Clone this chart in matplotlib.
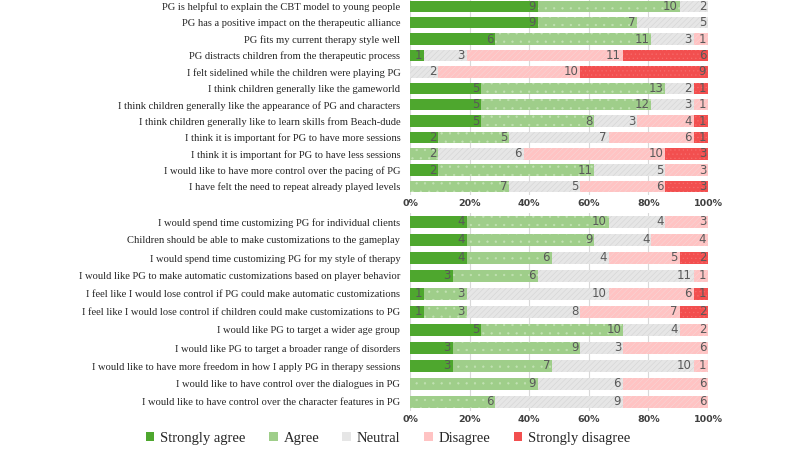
import matplotlib
matplotlib.use("Agg")
import matplotlib.pyplot as plt
import numpy as np

# Datos (numero de respuestas, 21 terapeutas)
niveles = ["Strongly agree", "Agree", "Neutral", "Disagree", "Strongly disagree"]

preguntas_arriba = [
    "PG is helpful to explain the CBT model to young people",
    "PG has a positive impact on the therapeutic alliance",
    "PG fits my current therapy style well",
    "PG distracts children from the therapeutic process",
    "I felt sidelined while the children were playing PG",
    "I think children generally like the gameworld",
    "I think children generally like the appearance of PG and characters",
    "I think children generally like to learn skills from Beach-dude",
    "I think it is important for PG to have more sessions",
    "I think it is important for PG to have less sessions",
    "I would like to have more control over the pacing of PG",
    "I have felt the need to repeat already played levels",
]
muy_acuerdo_arriba = [9, 9, 6, 1, 0, 5, 5, 5, 2, 0, 2, 0]
acuerdo_arriba = [10, 7, 11, 0, 0, 13, 12, 8, 5, 2, 11, 7]
neutral_arriba = [2, 5, 3, 3, 2, 2, 3, 3, 7, 6, 5, 5]
desacuerdo_arriba = [0, 0, 1, 11, 10, 0, 1, 4, 6, 10, 3, 6]
muy_desacuerdo_arriba = [0, 0, 0, 6, 9, 1, 0, 1, 1, 3, 0, 3]

preguntas_abajo = [
    "I would spend time customizing PG for individual clients",
    "Children should be able to make customizations to the gameplay",
    "I would spend time customizing PG for my style of therapy",
    "I would like PG to make automatic customizations based on player behavior",
    "I feel like I would lose control if PG could make automatic customizations",
    "I feel like I would lose control if children could make customizations to PG",
    "I would like PG to target a wider age group",
    "I would like PG to target a broader range of disorders",
    "I would like to have more freedom in how I apply PG in therapy sessions",
    "I would like to have control over the dialogues in PG",
    "I would like to have control over the character features in PG",
]
muy_acuerdo_abajo = [4, 4, 4, 3, 1, 1, 5, 3, 3, 0, 0]
acuerdo_abajo = [10, 9, 6, 6, 3, 3, 10, 9, 7, 9, 6]
neutral_abajo = [4, 4, 4, 11, 10, 8, 4, 3, 10, 6, 9]
desacuerdo_abajo = [3, 4, 5, 1, 6, 7, 2, 6, 1, 6, 6]
muy_desacuerdo_abajo = [0, 0, 2, 0, 1, 2, 0, 0, 0, 0, 0]

colores = ["#4ea72e", "#9fce8a", "#e6e6e6", "#ffc3c3", "#f24f4f"]
tramas = [None, "..", "//////", "//////", "...."]
color_trama = ["#4ea72e", "#c2e2b3", "#d4d4d4", "#f7d6d6", "#f76c6c"]

plt.rcParams["hatch.linewidth"] = 0.4

fig = plt.figure(figsize=(8, 4.53), dpi=100)


def dibujar_panel(ax, preguntas, series, alto):
    datos = np.array(series, dtype=float)
    total = datos.sum(axis=0)
    porcentajes = datos / total * 100
    y = np.arange(len(preguntas))
    izquierda = np.zeros(len(preguntas))
    for i in range(len(niveles)):
        ax.barh(y, porcentajes[i], left=izquierda, height=alto,
                color=colores[i], hatch=tramas[i], edgecolor=color_trama[i],
                linewidth=0, label=niveles[i], zorder=2)
        for j in range(len(preguntas)):
            if datos[i, j] > 0:
                ax.text(izquierda[j] + porcentajes[i, j] - 0.6, y[j],
                        str(int(datos[i, j])), ha="right", va="center",
                        fontsize=8.5, color="#595959", zorder=3)
        izquierda += porcentajes[i]
    ax.set_xlim(0, 100)
    ax.set_ylim(len(preguntas) - 0.5, -0.5)
    ax.set_yticks(y)
    ax.set_yticklabels(preguntas, family="Liberation Serif", fontsize=7.6,
                       color="#262626")
    ax.set_xticks([0, 20, 40, 60, 80, 100])
    ax.set_xticklabels(["0%", "20%", "40%", "60%", "80%", "100%"],
                       fontsize=6.8, fontweight="bold", color="#404040")
    ax.tick_params(axis="x", length=0, pad=3)
    ax.tick_params(axis="y", length=0, pad=7)
    ax.grid(axis="x", color="#d9d9d9", linewidth=0.8, zorder=0)
    for s in ax.spines.values():
        s.set_visible(False)


ax1 = fig.add_axes([0.5125, 0.570, 0.3725, 0.434])
dibujar_panel(ax1, preguntas_arriba,
              [muy_acuerdo_arriba, acuerdo_arriba, neutral_arriba,
               desacuerdo_arriba, muy_desacuerdo_arriba], 0.7)

ax2 = fig.add_axes([0.5125, 0.093, 0.3725, 0.437])
dibujar_panel(ax2, preguntas_abajo,
              [muy_acuerdo_abajo, acuerdo_abajo, neutral_abajo,
               desacuerdo_abajo, muy_desacuerdo_abajo], 0.65)

# Leyenda abajo con cuadros pequenos
manejadores, etiquetas = ax2.get_legend_handles_labels()
leyenda = fig.legend(manejadores, etiquetas, loc="center", ncol=5,
                     bbox_to_anchor=(0.485, 0.033), frameon=False,
                     prop={"family": "Liberation Serif", "size": 10.5},
                     handlelength=0.6, handleheight=0.6, handletextpad=0.4,
                     columnspacing=1.6)
for h in leyenda.legend_handles:
    h.set_hatch(None)
for t in leyenda.get_texts():
    t.set_color("#262626")

fig.savefig("out.png", dpi=100)
